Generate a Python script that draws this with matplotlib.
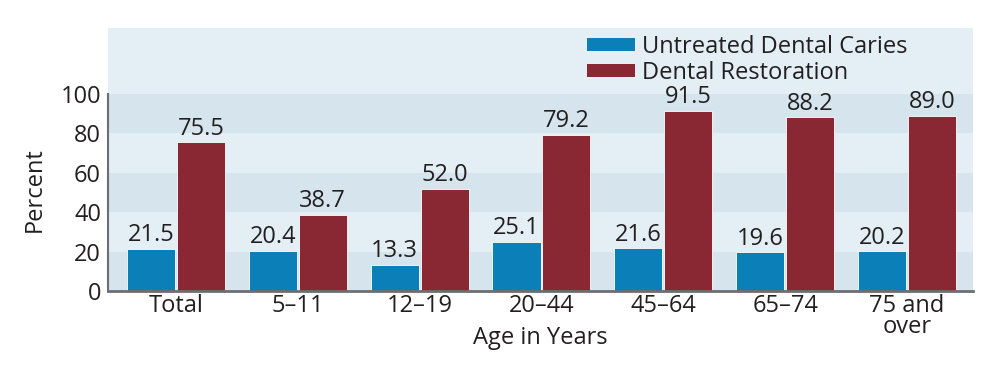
import matplotlib
matplotlib.use("Agg")
import matplotlib.pyplot as plt
import numpy as np
from matplotlib.patches import Patch

plt.rcParams['font.family'] = ['Open Sans', 'DejaVu Sans']

age_groups = ['Total', '5\u201311', '12\u201319', '20\u201344', '45\u201364', '65\u201374', '75 and\nover']
untreated_caries = [21.5, 20.4, 13.3, 25.1, 21.6, 19.6, 20.2]
dental_restoration = [75.5, 38.7, 52.0, 79.2, 91.5, 88.2, 89.0]
y_ticks = [0, 20, 40, 60, 80, 100]

blue = '#0a7fb8'
red = '#892733'
text_col = '#231f20'
light_band = '#e3eef5'
dark_band = '#d5e4ed'

fig = plt.figure(figsize=(10, 3.66), dpi=100)
ax = fig.add_axes([0.108, 0.205, 0.865, 0.7185])
ax.set_facecolor(light_band)
for lo in (0, 40, 80):
    ax.axhspan(lo, lo + 20, color=dark_band, lw=0, zorder=0)

x = np.arange(len(age_groups))
w = 0.394
b1 = ax.bar(x - w / 2 - 0.008, untreated_caries, w, color=blue, edgecolor='white', linewidth=0.6, zorder=2)
b2 = ax.bar(x + w / 2 + 0.008, dental_restoration, w, color=red, edgecolor='white', linewidth=0.6, zorder=2)

for bars, vals in ((b1, untreated_caries), (b2, dental_restoration)):
    for rect, v in zip(bars, vals):
        ax.text(rect.get_x() + rect.get_width() / 2, v + 0.8, '%.1f' % v,
                ha='center', va='bottom', fontsize=17, color=text_col, zorder=3)

ax.set_xlim(-0.558, len(age_groups) - 1 + 0.542)
ax.set_ylim(0, 133.5)
ax.set_yticks(y_ticks)
ax.set_xticks(x)
ax.set_xticklabels(age_groups, linespacing=0.85)
ax.tick_params(axis='both', length=0, labelsize=17, colors=text_col)
ax.tick_params(axis='x', pad=2)
ax.tick_params(axis='y', pad=5)

for s in ('top', 'right'):
    ax.spines[s].set_visible(False)
ax.spines['left'].set_bounds(0, 100)
ax.spines['left'].set_color('#6d6e71')
ax.spines['left'].set_linewidth(1.5)
ax.spines['bottom'].set_color('#6d6e71')
ax.spines['bottom'].set_linewidth(2)
ax.spines['left'].set_zorder(4)
ax.spines['bottom'].set_zorder(4)

ax.set_xlabel('Age in Years', fontsize=17, color=text_col, va='center')
ax.xaxis.set_label_coords(0.5, -0.18)
ax.set_ylabel('Percent', fontsize=17, color=text_col)
ax.yaxis.set_label_coords(-0.071, 0.384)

handles = [Patch(facecolor=blue, edgecolor='none'), Patch(facecolor=red, edgecolor='none')]
leg = ax.legend(handles, ['Untreated Dental Caries', 'Dental Restoration'],
                loc='upper left', bbox_to_anchor=(0.554, 0.975), frameon=False,
                fontsize=17, handlelength=2.03, handleheight=0.47,
                handletextpad=0.3, labelspacing=0.1, borderpad=0.0,
                borderaxespad=0.0)
for t in leg.get_texts():
    t.set_color(text_col)

fig.savefig('out.png', dpi=100)
